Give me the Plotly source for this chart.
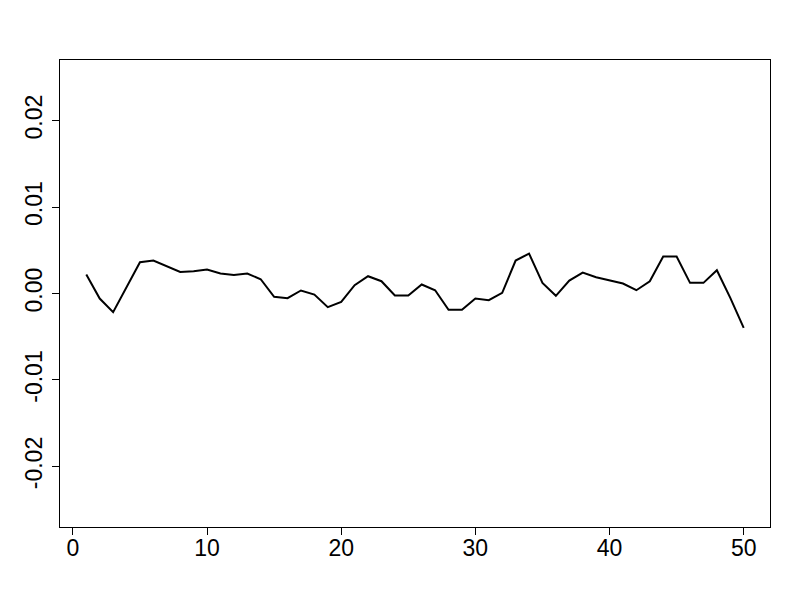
import plotly.graph_objects as go

# Data

x_vals = list(range(1, 51))
y_vals = [0.00219, -0.00058, -0.00216, 0.00070, 0.00361, 0.00381, 0.00315, 0.00250, 0.00258, 0.00277,
          0.00231, 0.00215, 0.00231, 0.00165, -0.00039, -0.00054, 0.00035, -0.00012, -0.00158, -0.00097,
          0.00096, 0.00200, 0.00142, -0.00023, -0.00023, 0.00104, 0.00038, -0.00189, -0.00189, -0.00058,
          -0.00077, 0.00007, 0.00381, 0.00462, 0.00123, -0.00027, 0.00150, 0.00242, 0.00188, 0.00150,
          0.00115, 0.00038, 0.00142, 0.00427, 0.00427, 0.00123, 0.00123, 0.00269, -0.00051, -0.00397]

x_ticks = [0, 10, 20, 30, 40, 50]
y_ticks = [-0.02, -0.01, 0.0, 0.01, 0.02]
y_tick_labels = ['-0.02', '-0.01', '0.00', '0.01', '0.02']

fig = go.Figure(go.Scatter(x=x_vals, y=y_vals, mode='lines',
                           line=dict(color='black', width=2)))

axis_style = dict(showline=True, mirror=True, linecolor='black', linewidth=1,
                  ticks='outside', ticklen=7, tickcolor='black', tickwidth=1,
                  showgrid=False, zeroline=False, automargin=False,
                  tickfont=dict(family='Liberation Sans, Arial', size=23, color='black'))

fig.update_xaxes(range=[-0.96, 51.96], tickvals=x_ticks, ticklabelstandoff=-7, **axis_style)
fig.update_yaxes(range=[-0.027, 0.027], tickvals=y_ticks, ticktext=y_tick_labels,
                 tickangle=-90, ticklabelstandoff=1, **axis_style)

# page body adds ~7px offset, margins compensate for it
fig.update_layout(width=800, height=600, showlegend=False,
                  plot_bgcolor='white', paper_bgcolor='white',
                  margin=dict(l=52, r=38, t=52, b=81))

fig.write_html("out.html")
